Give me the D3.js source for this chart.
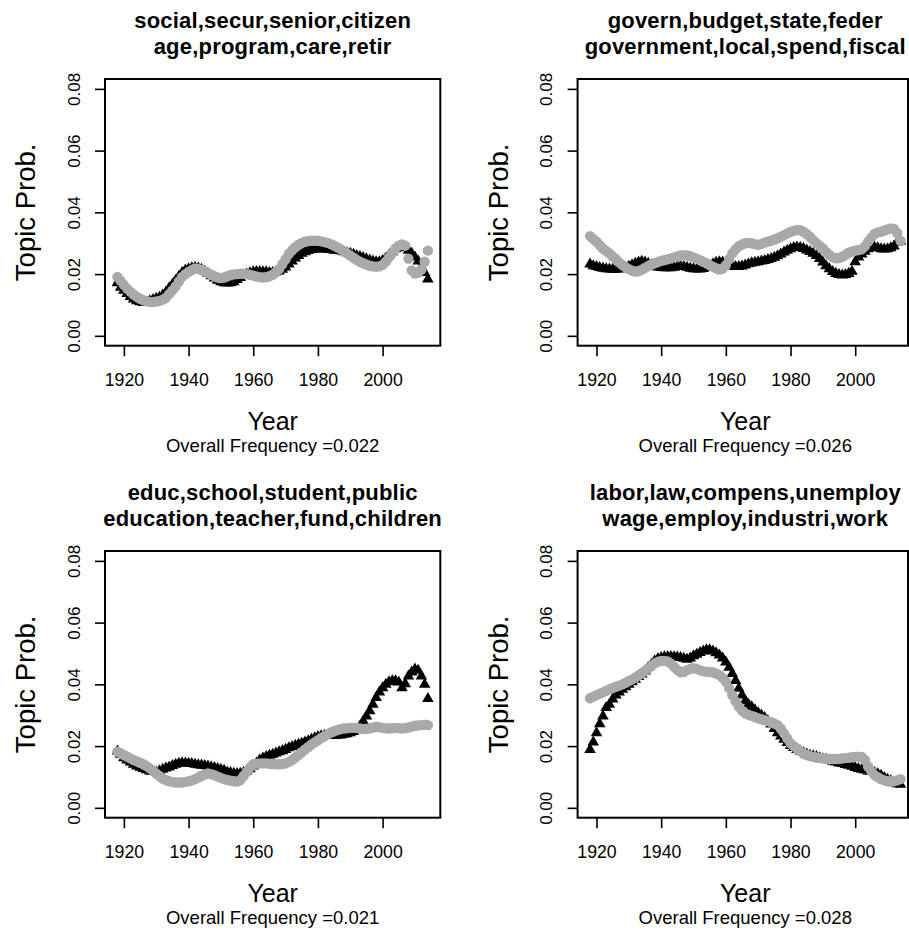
<!DOCTYPE html>
<html>
<head>
<meta charset="utf-8">
<script src="https://cdn.jsdelivr.net/npm/d3@7"></script>
<style>
  html, body { margin: 0; padding: 0; background: #fff; }
  svg { display: block; font-family: "Liberation Sans", Arial, Helvetica, sans-serif; }
</style>
</head>
<body>
<div id="chart"></div>
<script>
// one value per year, 1918 .. 2014
const years = d3.range(1918, 2015);
const xTicks = [1920, 1940, 1960, 1980, 2000];
const yTicks = [0, 0.02, 0.04, 0.06, 0.08];

const titles = [
  ['social,secur,senior,citizen', 'age,program,care,retir'],
  ['govern,budget,state,feder', 'government,local,spend,fiscal'],
  ['educ,school,student,public', 'education,teacher,fund,children'],
  ['labor,law,compens,unemploy', 'wage,employ,industri,work'],
];
const overall = ['0.022', '0.026', '0.021', '0.028'];

const socialBlack = [
  .0175, .016, .015, .014, .013, .0122, .0116, .0113, .0111, .0112,
  .0116, .012, .0124, .0128, .0135, .0145, .0158, .017, .0183, .0196,
  .0208, .0216, .022, .0223, .0225, .0222, .0218, .0212, .0205, .0197,
  .019, .0183, .0178, .0175, .0174, .0175, .0178, .0185, .0192, .0198,
  .0203, .0207, .021, .0211, .0211, .021, .021, .0208, .0208, .021,
  .0213, .0218, .0226, .0235, .0245, .0255, .0263, .027, .0275, .0279,
  .0282, .0284, .0285, .0285, .0284, .0283, .0282, .028, .0279, .0278,
  .0275, .0272, .027, .0267, .0263, .026, .0256, .0252, .0248, .0245,
  .0243, .0243, .0247, .0255, .0265, .0275, .0285, .029, .0292, .0288,
  .028, .027, .0258, .0245, .0228, .0208, .0187,
];
const socialGrey = [
  .0191, .0178, .0165, .0153, .0143, .0134, .0126, .012, .0115, .0112,
  .011, .011, .0111, .0113, .0117, .0123, .0135, .0147, .016, .0176,
  .0191, .02, .0207, .0213, .0218, .0217, .0213, .0208, .0203, .0198,
  .0193, .0189, .0187, .0189, .0193, .0197, .0199, .02, .0201, .0201,
  .02, .0198, .0195, .0192, .019, .0189, .019, .0193, .0198, .0206,
  .0216, .0232, .0248, .0265, .0277, .0287, .0295, .0301, .0305, .0307,
  .0308, .0308, .0308, .0306, .0304, .0301, .0297, .0292, .0287, .0281,
  .0274, .0267, .026, .0253, .0246, .024, .0235, .0231, .0227, .0225,
  .0224, .0225, .023, .024, .0255, .027, .0283, .0292, .0296, .0292,
  .025, .0212, .0202, .0205, .0215, .024, .0276,
];

const governBlack = [
  .0235, .023, .0227, .0224, .0222, .022, .0219, .0218, .0218, .0219,
  .0221, .0224, .0228, .0233, .0238, .0242, .0244, .0242, .0238, .0233,
  .0229, .0226, .0224, .0223, .0223, .0223, .0225, .0227, .0228, .0227,
  .0225, .0222, .022, .0219, .0219, .0221, .0225, .023, .0236, .0241,
  .0243, .0242, .0238, .0233, .0229, .0227, .0227, .0229, .0232, .0236,
  .0239, .0241, .0243, .0245, .0247, .025, .0253, .0257, .0262, .0268,
  .0274, .028, .0285, .0289, .029, .0289, .0286, .0281, .0276, .027,
  .0263, .0253, .0242, .023, .022, .0211, .0205, .0201, .02, .0201,
  .0205, .0212, .0243, .0258, .0268, .0277, .0285, .0289, .029, .0288,
  .0285, .0284, .0285, .0288, .0294, .0305, .031,
];
const governGrey = [
  .0323, .0314, .0305, .0294, .0283, .0275, .0267, .0257, .0248, .0238,
  .0229, .0222, .0216, .0211, .0208, .021, .0214, .022, .0226, .0231,
  .0235, .0239, .0243, .0245, .0248, .0251, .0254, .0257, .026, .0261,
  .026, .0258, .0254, .025, .0245, .024, .0235, .0229, .0224, .0219,
  .0215, .0218, .0229, .0248, .0267, .028, .029, .0296, .03, .0301,
  .03, .0297, .0295, .0298, .0302, .0305, .0308, .0312, .0316, .0321,
  .0326, .0332, .0337, .034, .0343, .0342, .0337, .033, .0321, .031,
  .03, .0291, .0283, .0272, .0262, .0255, .0251, .0252, .0256, .0262,
  .0269, .0273, .0276, .0278, .028, .029, .0305, .0319, .033, .0335,
  .0337, .0341, .0345, .0348, .0346, .0333, .0308,
];

const educBlack = [
  .0187, .0176, .0165, .0158, .0151, .0144, .0138, .0134, .013, .0126,
  .0122, .012, .0119, .0123, .0128, .0132, .0135, .014, .0144, .0147,
  .0149, .0148, .0147, .0146, .0144, .0142, .0141, .014, .0138, .0136,
  .0133, .013, .0128, .0124, .0119, .0117, .0115, .0114, .0115, .0118,
  .0122, .0129, .0138, .0148, .0158, .0164, .0169, .0173, .0176, .018,
  .0184, .0188, .0192, .0197, .0201, .0205, .0209, .0212, .0216, .022,
  .0225, .023, .0234, .0236, .0238, .0238, .0238, .0238, .0238, .0239,
  .0241, .0243, .0246, .025, .0257, .0268, .0284, .03, .0317, .0338,
  .036, .0378, .0392, .0403, .0411, .0414, .0414, .041, .0392, .0405,
  .043, .0443, .0452, .0448, .043, .0403, .0357,
];
const educGrey = [
  .0182, .0177, .0171, .0166, .016, .0155, .0151, .0146, .0141, .0135,
  .0128, .012, .0111, .0103, .0095, .009, .0086, .0084, .0082, .0082,
  .0082, .0084, .0086, .0089, .0093, .0098, .0104, .0108, .0111, .0109,
  .0106, .0101, .0097, .0093, .009, .0088, .0086, .0085, .009, .0103,
  .0117, .0131, .0141, .0143, .0144, .0144, .0144, .0143, .0142, .0141,
  .0141, .0142, .0144, .0149, .0155, .0163, .0171, .018, .0189, .0197,
  .0205, .0212, .0219, .0226, .0232, .0238, .0244, .0248, .0252, .0255,
  .0257, .0258, .0259, .0259, .0259, .0257, .0255, .0256, .0257, .026,
  .0263, .0261, .0259, .0258, .0257, .0258, .0259, .0258, .0257, .0258,
  .026, .0263, .0266, .0267, .0268, .0269, .0268,
];

const laborBlack = [
  .0192, .0216, .0246, .0275, .03, .0328, .0338, .0355, .0368, .0378,
  .0387, .0395, .0403, .0411, .0419, .0428, .0436, .0446, .0457, .0468,
  .0479, .0486, .049, .0492, .0493, .0493, .0492, .0491, .049, .0487,
  .0484, .0488, .0495, .05, .0506, .0511, .0515, .0515, .0511, .0505,
  .0498, .0488, .0475, .0458, .0438, .0415, .039, .0368, .035, .0338,
  .033, .032, .0311, .0303, .0295, .0285, .0274, .026, .0246, .0235,
  .0225, .0214, .0205, .0198, .0192, .0187, .0182, .0177, .0173, .0171,
  .0169, .0165, .0162, .016, .0157, .0154, .0151, .0148, .0146, .0143,
  .0141, .0137, .0133, .013, .0128, .0125, .0122, .012, .0117, .0113,
  .0108, .0101, .0095, .009, .0084, .0081, .0079,
];
const laborGrey = [
  .0355, .036, .0365, .037, .0374, .0379, .0384, .0388, .0392, .0396,
  .04, .0405, .0411, .0416, .0422, .0429, .0436, .0444, .0452, .046,
  .0468, .0473, .0476, .0476, .0474, .0467, .0457, .0447, .0439, .044,
  .0446, .045, .0452, .045, .0446, .0443, .0441, .044, .0439, .0435,
  .043, .0421, .0409, .0388, .0365, .0345, .0328, .0315, .0306, .0301,
  .0298, .0294, .029, .0287, .0284, .0281, .0277, .0273, .0268, .0256,
  .0241, .0224, .0209, .02, .0192, .0183, .0176, .0171, .0168, .0165,
  .0163, .0161, .016, .0159, .0158, .0158, .0158, .0159, .016, .0161,
  .0162, .0164, .0165, .0166, .0165, .0155, .0133, .0118, .0106, .0099,
  .0093, .0089, .0086, .0086, .0086, .0089, .0093,
];

const panels = [
  { title: titles[0], freq: overall[0], black: socialBlack, grey: socialGrey },
  { title: titles[1], freq: overall[1], black: governBlack, grey: governGrey },
  { title: titles[2], freq: overall[2], black: educBlack, grey: educGrey },
  { title: titles[3], freq: overall[3], black: laborBlack, grey: laborGrey },
];

const W = 909, H = 933;
const cellW = 472.6, cellH = 472;
const box = { left: 105, right: 440.3, top: 79, bottom: 345.7 };

const svg = d3.select('#chart').append('svg')
  .attr('width', W)
  .attr('height', H);
svg.append('rect').attr('width', W).attr('height', H).attr('fill', '#fff');

// R pads the data range by 4% on each side
const xExt = d3.extent(years);
const xPad = (xExt[1] - xExt[0]) * 0.04;
const x = d3.scaleLinear()
  .domain([xExt[0] - xPad, xExt[1] + xPad])
  .range([box.left, box.right]);
const y = d3.scaleLinear()
  .domain([0 - 0.08 * 0.04, 0.08 * 1.04])
  .range([box.bottom, box.top]);

const tri = d3.symbol().type(d3.symbolTriangle).size(58);

panels.forEach((p, i) => {
  const ox = (i % 2) * cellW;
  const oy = Math.floor(i / 2) * cellH;
  const g = svg.append('g').attr('transform', `translate(${ox},${oy})`);
  const cx = (box.left + box.right) / 2;

  // title, two bold lines
  g.selectAll('text.title')
    .data(p.title)
    .enter()
    .append('text')
    .attr('class', 'title')
    .attr('x', cx)
    .attr('y', (d, k) => 27.5 + k * 26)
    .attr('text-anchor', 'middle')
    .attr('font-weight', 'bold')
    .attr('font-size', 22)
    .attr('letter-spacing', 0.2)
    .text((d) => d);

  // points: black triangles below, grey circles on top
  const pts = g.append('g');
  pts.selectAll('path')
    .data(p.black)
    .enter()
    .append('path')
    .attr('d', tri)
    .attr('transform', (d, k) => `translate(${x(years[k])},${y(d) + 1})`)
    .attr('fill', '#000');
  pts.selectAll('circle')
    .data(p.grey)
    .enter()
    .append('circle')
    .attr('cx', (d, k) => x(years[k]))
    .attr('cy', (d) => y(d))
    .attr('r', 5.2)
    .attr('fill', '#a9a9a9');

  // frame (the right column is cut by the picture edge)
  const boxW = Math.min(box.right - box.left, W - 1 - ox - box.left);
  g.append('rect')
    .attr('x', box.left)
    .attr('y', box.top)
    .attr('width', boxW)
    .attr('height', box.bottom - box.top)
    .attr('fill', 'none')
    .attr('stroke', '#000')
    .attr('stroke-width', 2);

  // axes
  const ax = g.append('g')
    .attr('transform', `translate(0,${box.bottom})`)
    .call(d3.axisBottom(x).tickValues(xTicks).tickFormat(d3.format('d')).tickSize(10.5).tickPadding(0));
  ax.select('.domain').remove();
  ax.selectAll('line').attr('stroke-width', 1.6);
  ax.selectAll('text')
    .attr('y', 386 - box.bottom)
    .attr('dy', 0)
    .attr('font-size', 17.7)
    .attr('font-family', null)
    .attr('fill', '#000');

  const ay = g.append('g')
    .attr('transform', `translate(${box.left},0)`)
    .call(d3.axisLeft(y).tickValues(yTicks).tickFormat(d3.format('.2f')).tickSize(10));
  ay.select('.domain').remove();
  ay.selectAll('line').attr('stroke-width', 1.6);
  ay.selectAll('text')
    .attr('transform', 'rotate(-90)')
    .attr('x', 0)
    .attr('y', -(box.left - 79.5))
    .attr('dy', 0)
    .attr('text-anchor', 'middle')
    .attr('font-size', 17)
    .attr('font-family', null)
    .attr('fill', '#000');

  // labels
  g.append('text')
    .attr('transform', `translate(35,${(box.top + box.bottom) / 2}) rotate(-90)`)
    .attr('text-anchor', 'middle')
    .attr('font-size', 27.5)
    .text('Topic Prob.');
  g.append('text')
    .attr('x', cx)
    .attr('y', 430)
    .attr('text-anchor', 'middle')
    .attr('font-size', 25)
    .text('Year');
  g.append('text')
    .attr('x', cx)
    .attr('y', 452)
    .attr('text-anchor', 'middle')
    .attr('font-size', 18.5)
    .text('Overall Frequency =' + p.freq);
});
</script>
</body>
</html>
